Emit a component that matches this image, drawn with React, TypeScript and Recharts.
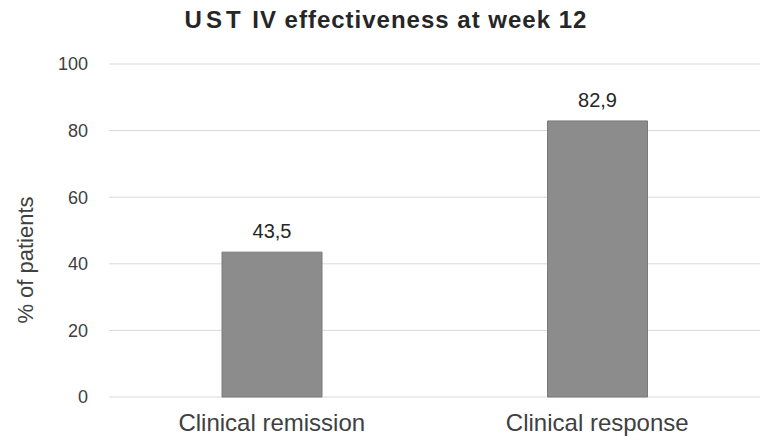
import React from 'react';
import { BarChart, Bar, XAxis, YAxis, CartesianGrid, LabelList } from 'recharts';

const categories = ['Clinical remission', 'Clinical response'];
const values = [43.5, 82.9];
const yTicks = [0, 20, 40, 60, 80, 100];

const data = categories.map((c, i) => ({ name: c, value: values[i] }));

const fmt = (v: number) => v.toFixed(1).replace('.', ',');

export default function App() {
  return (
    <div style={{ position: 'absolute', left: 0, top: 0, width: 768, height: 442, background: '#fff' }}>
      <svg width={768} height={442} style={{ position: 'absolute', left: 0, top: 0, pointerEvents: 'none' }}>
        <text x={386} y={28} textAnchor="middle" fontFamily="'Liberation Sans', Arial, sans-serif" fontWeight="bold" fontSize={24} letterSpacing={1} fill="#262626">
          <tspan letterSpacing={4}>UST</tspan><tspan> IV effectiveness at week 12</tspan>
        </text>
        <text x={33} y={260} textAnchor="middle" transform="rotate(-90 33 260)" fontFamily="'Liberation Sans', Arial, sans-serif" fontSize={22} fill="#404040">% of patients</text>
      </svg>
      <BarChart width={768} height={442} data={data} margin={{ top: 64, right: 8, left: 0, bottom: 0 }} barCategoryGap={0}>
        <CartesianGrid vertical={false} stroke="#d9d9d9" />
        <XAxis dataKey="name" height={45} axisLine={false} tickLine={false} tickSize={0} tickMargin={17}
          tick={{ fontSize: 24, fill: '#404040', fontFamily: "'Liberation Sans', Arial, sans-serif" }} />
        <YAxis width={109} domain={[0, 100]} ticks={yTicks} axisLine={false} tickLine={false} tickSize={0} tickMargin={21}
          tick={{ fontSize: 18, fill: '#404040', fontFamily: "'Liberation Sans', Arial, sans-serif" }} />
        <Bar dataKey="value" fill="#8c8c8c" stroke="#7a7a7a" strokeWidth={1} barSize={100} isAnimationActive={false}>
          <LabelList dataKey="value" position="top" offset={14} formatter={(v: any) => fmt(Number(v))}
            style={{ fontSize: 20, fill: '#262626', fontFamily: "'Liberation Sans', Arial, sans-serif" }} />
        </Bar>
      </BarChart>
    </div>
  );
}
